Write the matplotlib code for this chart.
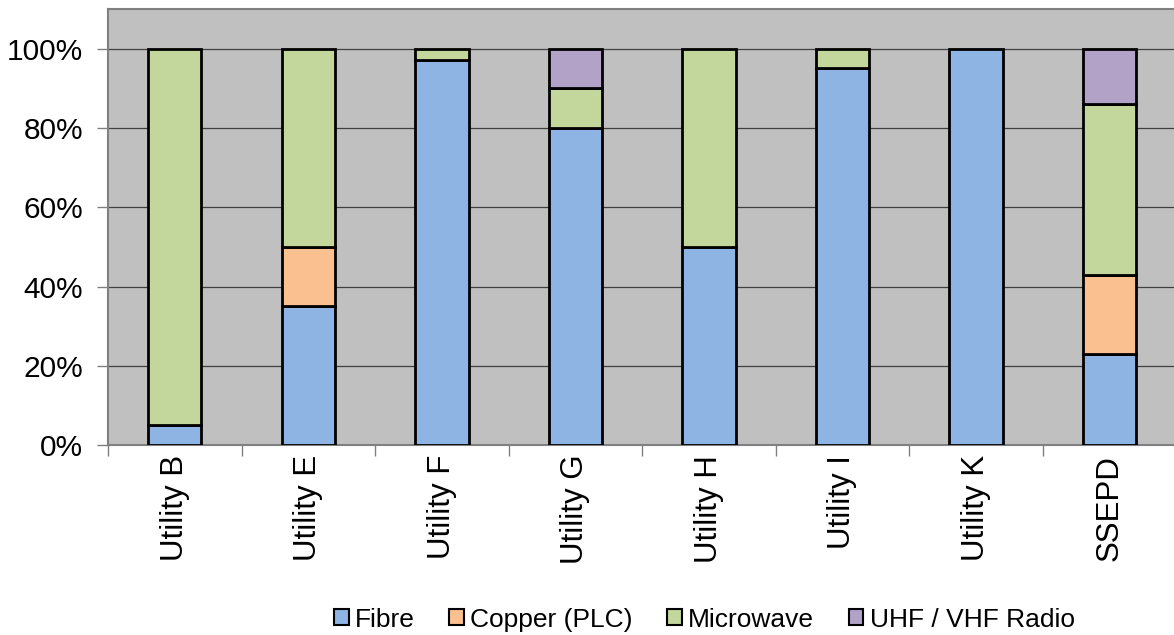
import numpy as np
import matplotlib.pyplot as plt
from matplotlib.patches import Patch
from matplotlib.ticker import FixedLocator, PercentFormatter

plt.rcParams["font.family"] = ["Liberation Sans", "DejaVu Sans"]

utilities = ["Utility B", "Utility E", "Utility F", "Utility G",
             "Utility H", "Utility I", "Utility K", "SSEPD"]
fibre = [5, 35, 97, 80, 50, 95, 100, 23]
copper = [0, 15, 0, 0, 0, 0, 0, 20]
microwave = [95, 50, 3, 10, 50, 5, 0, 43]
radio = [0, 0, 0, 10, 0, 0, 0, 14]

series = [
    ("Fibre", fibre, "#8EB4E3"),
    ("Copper (PLC)", copper, "#FAC090"),
    ("Microwave", microwave, "#C3D69B"),
    ("UHF / VHF Radio", radio, "#B3A2C7"),
]

fig = plt.figure(figsize=(11.74, 6.35), dpi=100)
ax = fig.add_axes([0.092, 0.299, 0.910, 0.687])
ax.set_facecolor("#C0C0C0")

x = np.arange(len(utilities))
bottom = np.zeros(len(utilities))
for name, vals, color in series:
    vals = np.array(vals, dtype=float)
    bars = ax.bar(x, vals, width=0.4, bottom=bottom, color=color,
                  edgecolor="black", linewidth=2.0, zorder=3)
    # hide zero-height segments so they don't leave black lines
    for b, v in zip(bars, vals):
        if v == 0:
            b.set_visible(False)
    bottom += vals

ax.set_xlim(-0.5, len(utilities) - 0.5)
ax.set_ylim(0, 110)
ax.yaxis.set_major_locator(FixedLocator([0, 20, 40, 60, 80, 100]))
ax.yaxis.set_major_formatter(PercentFormatter(decimals=0))
ax.grid(axis="y", color="#404040", linewidth=0.9, zorder=0)

ax.set_xticks(x)
ax.set_xticklabels(utilities, rotation=90, fontsize=22.5)
ax.xaxis.set_minor_locator(FixedLocator(np.arange(-0.5, len(utilities), 1.0)))
ax.tick_params(axis="x", which="major", length=0, pad=7)
ax.tick_params(axis="x", which="minor", length=8, color="#808080", width=1)
ax.tick_params(axis="y", length=8, color="#808080", width=1, labelsize=21.5, pad=10)

for side in ["left", "bottom", "top"]:
    ax.spines[side].set_color("#808080")
    ax.spines[side].set_linewidth(1.5)
ax.spines["right"].set_visible(False)

handles = [Patch(facecolor=c, edgecolor="black", linewidth=1.5) for _, _, c in series]
fig.legend(handles, [s[0] for s in series], loc="center",
           bbox_to_anchor=(0.6, 0.024), ncol=4, frameon=False,
           fontsize=19, handlelength=0.55, handleheight=0.55,
           handletextpad=0.25, columnspacing=1.3)

fig.savefig("out.png", dpi=100)
